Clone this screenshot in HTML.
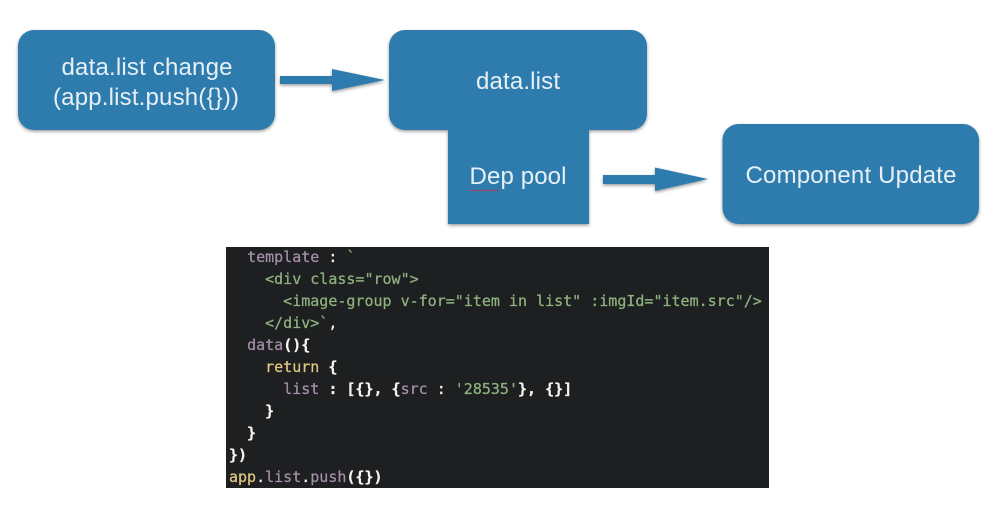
<!DOCTYPE html>
<html>
<head>
<meta charset="utf-8">
<style>
html,body{margin:0;padding:0;background:#fff;width:1003px;height:514px;overflow:hidden}
svg{display:block}
.t{font-family:"Liberation Sans",sans-serif;font-size:24px;fill:#e6f0f6;text-anchor:middle}
.c{font-family:"DejaVu Sans Mono","Liberation Mono",monospace;font-size:15px;white-space:pre;stroke-width:.25px}
.w{fill:#f4f4f0;stroke:#f4f4f0}.g{fill:#8eb27e;stroke:#8eb27e}.p{fill:#a48fa8;stroke:#a48fa8}.y{fill:#e2c883;stroke:#e2c883}
</style>
</head>
<body>
<svg width="1003" height="514" viewBox="0 0 1003 514" xmlns="http://www.w3.org/2000/svg">
<defs>
<filter id="s" x="-10%" y="-10%" width="120%" height="125%">
<feDropShadow dx="0" dy="1.500" stdDeviation="1.500" flood-color="#000" flood-opacity=".4"/>
</filter>
</defs>
<g fill="#2f7bad" filter="url(#s)">
<rect x="18" y="30" width="257" height="100" rx="16"/>
<rect x="389" y="30" width="258" height="100" rx="16"/>
<rect x="722.500" y="124" width="256.500" height="100" rx="16"/>
<rect x="448" y="125" width="141" height="99"/>
<path d="M280 76H332V69L385 80L332 91V84H280Z"/>
<path d="M603 175H655V167.500L708 179L655 191V184H603Z"/>
</g>
<text class="t" x="147" y="75" textLength="171" lengthAdjust="spacing">data.list change</text>
<text class="t" x="146" y="105" textLength="186" lengthAdjust="spacing">(app.list.push({}))</text>
<text class="t" x="518" y="89" textLength="84" lengthAdjust="spacing">data.list</text>
<text class="t" x="518" y="184" textLength="97" lengthAdjust="spacing">Dep pool</text>
<line x1="470" y1="190.500" x2="499" y2="190.500" stroke="#e0202a" stroke-width="1.300" stroke-dasharray="1.500 1.200"/>
<text class="t" x="851" y="183" textLength="211" lengthAdjust="spacing">Component Update</text>

<rect x="226" y="247" width="543" height="241" fill="#1d1f21"/>
<g class="c">
<text y="262" x="229" xml:space="preserve">  <tspan class="p">template</tspan><tspan class="w"> : </tspan><tspan class="g">`</tspan></text>
<text y="284" x="229" xml:space="preserve" class="g">    &lt;div class="row"&gt;</text>
<text y="306" x="229" xml:space="preserve" class="g">      &lt;image-group v-for="item in list" :imgId="item.src"/&gt;</text>
<text y="328" x="229" xml:space="preserve">    <tspan class="g">&lt;/div&gt;`</tspan><tspan class="w">,</tspan></text>
<text y="350" x="229" xml:space="preserve">  <tspan class="p">data</tspan><tspan class="w" font-weight="bold">(){</tspan></text>
<text y="372" x="229" xml:space="preserve">    <tspan class="y">return</tspan><tspan class="w" font-weight="bold"> {</tspan></text>
<text y="394" x="229" xml:space="preserve">      <tspan class="p">list</tspan><tspan class="w" font-weight="bold"> : [{}, {</tspan><tspan class="p">src</tspan><tspan class="w"> : </tspan><tspan class="g">'28535'</tspan><tspan class="w" font-weight="bold">}, {}]</tspan></text>
<text y="416" x="229" xml:space="preserve" class="w" font-weight="bold">    }</text>
<text y="438" x="229" xml:space="preserve" class="w" font-weight="bold">  }</text>
<text y="460" x="229" xml:space="preserve" class="w" font-weight="bold">})</text>
<text y="482" x="229" xml:space="preserve"><tspan class="y">app</tspan><tspan class="w">.</tspan><tspan class="p">list</tspan><tspan class="w">.</tspan><tspan class="p">push</tspan><tspan class="w" font-weight="bold">({})</tspan></text>
</g>
</svg>
</body>
</html>
